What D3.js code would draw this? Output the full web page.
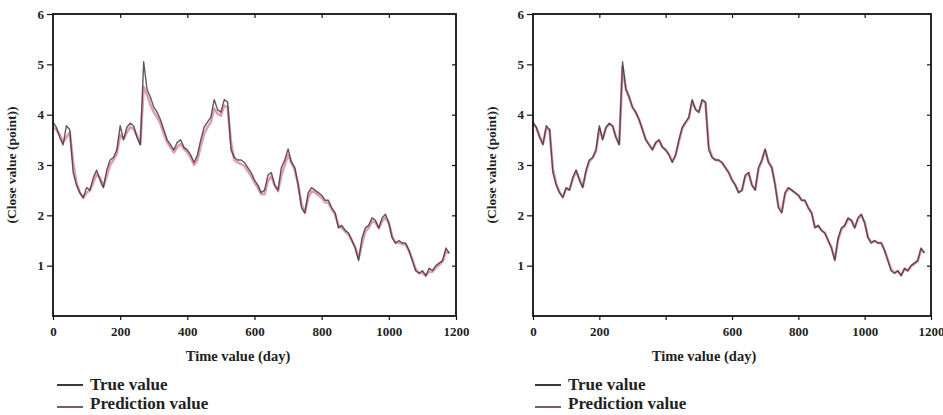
<!DOCTYPE html>
<html>
<head>
<meta charset="utf-8">
<script src="https://cdn.jsdelivr.net/npm/d3@7"></script>
<style>
  body { margin: 0; background: #fff; }
  text { font-family: "Liberation Serif", "Times New Roman", Times, serif; font-weight: bold; fill: #222; }
  .tick text { font-size: 13px; }
  .domain { display: none; }
</style>
</head>
<body>
<div id="chart"></div>
<script>
//data, one point every 10 days
const days = d3.range(0, 1190, 10);

const trueValues = [
  3.85,3.75,3.55,3.40,3.78,3.70,2.85,2.60,2.45,2.35,
  2.55,2.50,2.75,2.90,2.70,2.55,2.90,3.10,3.15,3.30,
  3.78,3.50,3.75,3.83,3.78,3.55,3.40,5.05,4.50,4.35,
  4.15,4.05,3.90,3.70,3.50,3.40,3.30,3.45,3.50,3.35,
  3.30,3.20,3.05,3.20,3.50,3.75,3.85,3.95,4.30,4.10,
  4.05,4.30,4.25,3.30,3.15,3.10,3.10,3.05,2.95,2.85,
  2.70,2.60,2.45,2.50,2.80,2.85,2.60,2.50,2.95,3.10,
  3.32,3.05,2.95,2.60,2.15,2.05,2.45,2.55,2.50,2.45,
  2.40,2.30,2.30,2.15,2.05,1.75,1.80,1.70,1.65,1.50,
  1.35,1.10,1.55,1.75,1.80,1.95,1.90,1.75,1.95,2.02,
  1.85,1.55,1.45,1.50,1.45,1.45,1.30,1.10,0.90,0.85,
  0.90,0.80,0.95,0.90,1.00,1.05,1.10,1.35,1.25
];

//left model
const predLeft = [
  3.75,3.70,3.60,3.45,3.55,3.65,3.05,2.65,2.45,2.35,
  2.45,2.50,2.65,2.82,2.75,2.58,2.78,3.00,3.10,3.22,
  3.60,3.52,3.65,3.75,3.72,3.58,3.42,4.55,4.40,4.20,
  4.05,3.95,3.82,3.62,3.45,3.35,3.25,3.35,3.42,3.32,
  3.25,3.15,3.00,3.10,3.38,3.62,3.75,3.85,4.12,4.02,
  3.98,4.18,4.15,3.45,3.10,3.05,3.02,2.98,2.88,2.78,
  2.65,2.55,2.42,2.42,2.68,2.78,2.60,2.48,2.80,3.00,
  3.20,3.05,2.90,2.62,2.22,2.05,2.35,2.48,2.46,2.40,
  2.35,2.26,2.25,2.12,2.02,1.80,1.75,1.68,1.62,1.50,
  1.36,1.15,1.42,1.68,1.75,1.88,1.86,1.74,1.88,1.96,
  1.85,1.58,1.45,1.46,1.43,1.42,1.30,1.12,0.93,0.85,
  0.86,0.80,0.88,0.88,0.96,1.02,1.08,1.28,1.25
];

//right model
const predRight = [
  3.82,3.74,3.57,3.43,3.72,3.70,2.92,2.63,2.46,2.37,
  2.53,2.51,2.72,2.88,2.72,2.57,2.86,3.07,3.14,3.28,
  3.72,3.52,3.73,3.81,3.77,3.56,3.42,4.95,4.52,4.34,
  4.14,4.04,3.90,3.71,3.51,3.41,3.31,3.43,3.49,3.36,
  3.30,3.21,3.07,3.19,3.47,3.72,3.84,3.93,4.26,4.11,
  4.05,4.27,4.24,3.36,3.16,3.10,3.09,3.04,2.95,2.85,
  2.71,2.60,2.46,2.49,2.77,2.84,2.61,2.51,2.92,3.08,
  3.29,3.06,2.95,2.62,2.19,2.07,2.42,2.53,2.50,2.45,
  2.40,2.30,2.29,2.15,2.05,1.77,1.79,1.70,1.65,1.50,
  1.36,1.13,1.51,1.72,1.79,1.93,1.90,1.76,1.93,2.00,
  1.86,1.57,1.46,1.49,1.45,1.45,1.31,1.12,0.92,0.86,
  0.89,0.81,0.93,0.90,0.99,1.04,1.09,1.32,1.26
];

const xTicks = [0, 200, 400, 600, 800, 1000, 1200];
const xTickLabelsLeft = ["0", "200", "400", "600", "800", "1000", "1200"];
const xTickLabelsRight = ["0", "200", "", "600", "800", "1000", "1200"]; //400 label is missing in the original
const yTicks = [1, 2, 3, 4, 5, 6];
const legendLabels = ["True value", "Prediction value"];

const W = 943, H = 415;
const colTrue = "#3b3035", colPred = "#d77d92";

const svg = d3.select("#chart").append("svg")
  .attr("width", W).attr("height", H);

//panels: plot box in pixels and where the titles/legend go
const panels = [
  {x0: 53, x1: 456, pred: predLeft, labels: xTickLabelsLeft, yTitleX: 16, xTitleX: 238, legX: 57},
  {x0: 533, x1: 931, pred: predRight, labels: xTickLabelsRight, yTitleX: 496, xTitleX: 704, legX: 535}
];
const plotTop = 14, plotBottom = 316;

panels.forEach(function(p) {
  const x = d3.scaleLinear().domain([0, 1200]).range([p.x0, p.x1]);
  const y = d3.scaleLinear().domain([0, 6]).range([plotBottom, plotTop]);
  const g = svg.append("g");

  //lines: prediction under, true on top
  const line = function(vals) {
    return d3.line()
      .x(function(d, i) { return x(days[i]); })
      .y(function(d) { return y(d); })(vals);
  };
  g.append("path").attr("d", line(p.pred))
    .attr("fill", "none").attr("stroke", colPred).attr("stroke-width", 2.6)
    .attr("stroke-opacity", 0.75).attr("stroke-linejoin", "round");
  g.append("path").attr("d", line(trueValues))
    .attr("fill", "none").attr("stroke", colTrue).attr("stroke-width", 1.4)
    .attr("stroke-opacity", 0.8).attr("stroke-linejoin", "round");

  //axes, outward ticks on bottom/left
  g.append("g").attr("transform", "translate(0," + plotBottom + ")")
    .call(d3.axisBottom(x).tickValues(xTicks).tickSize(4).tickPadding(7)
      .tickFormat(function(d, i) { return p.labels[i]; }));
  g.append("g").attr("transform", "translate(" + p.x0 + ",0)")
    .call(d3.axisLeft(y).tickValues(yTicks).tickSize(6).tickPadding(3).tickFormat(d3.format("d")));
  //mirror ticks inside on top and right
  g.append("g").attr("transform", "translate(0," + plotTop + ")")
    .call(d3.axisBottom(x).tickValues(xTicks.slice(1, -1)).tickSize(4).tickFormat(""));
  g.append("g").attr("transform", "translate(" + p.x1 + ",0)")
    .call(d3.axisLeft(y).tickValues(yTicks.slice(0, -1)).tickSize(4).tickFormat(""));
  g.selectAll(".tick line").attr("stroke", "#111").attr("stroke-width", 1.2);

  //frame
  g.append("rect").attr("x", p.x0).attr("y", plotTop)
    .attr("width", p.x1 - p.x0).attr("height", plotBottom - plotTop)
    .attr("fill", "none").attr("stroke", "#111").attr("stroke-width", 1.8);

  //titles
  g.append("text").attr("x", p.xTitleX).attr("y", 361)
    .attr("text-anchor", "middle").style("font-size", "14.5px")
    .text("Time value (day)");
  g.append("text")
    .attr("transform", "translate(" + p.yTitleX + "," + ((plotTop + plotBottom) / 2) + ") rotate(-90)")
    .attr("text-anchor", "middle").style("font-size", "13.5px")
    .text("(Close value (point))");

  //legend
  legendLabels.forEach(function(lab, i) {
    const ly = 385 + i * 22;
    g.append("line").attr("x1", p.legX).attr("x2", p.legX + 26)
      .attr("y1", ly).attr("y2", ly)
      .attr("stroke", i == 0 ? "#222" : "#6a4c57").attr("stroke-width", 1.8);
    g.append("text").attr("x", p.legX + 33).attr("y", ly + 5 - i * 3)
      .style("font-size", "17px").text(lab);
  });
});
</script>
</body>
</html>
